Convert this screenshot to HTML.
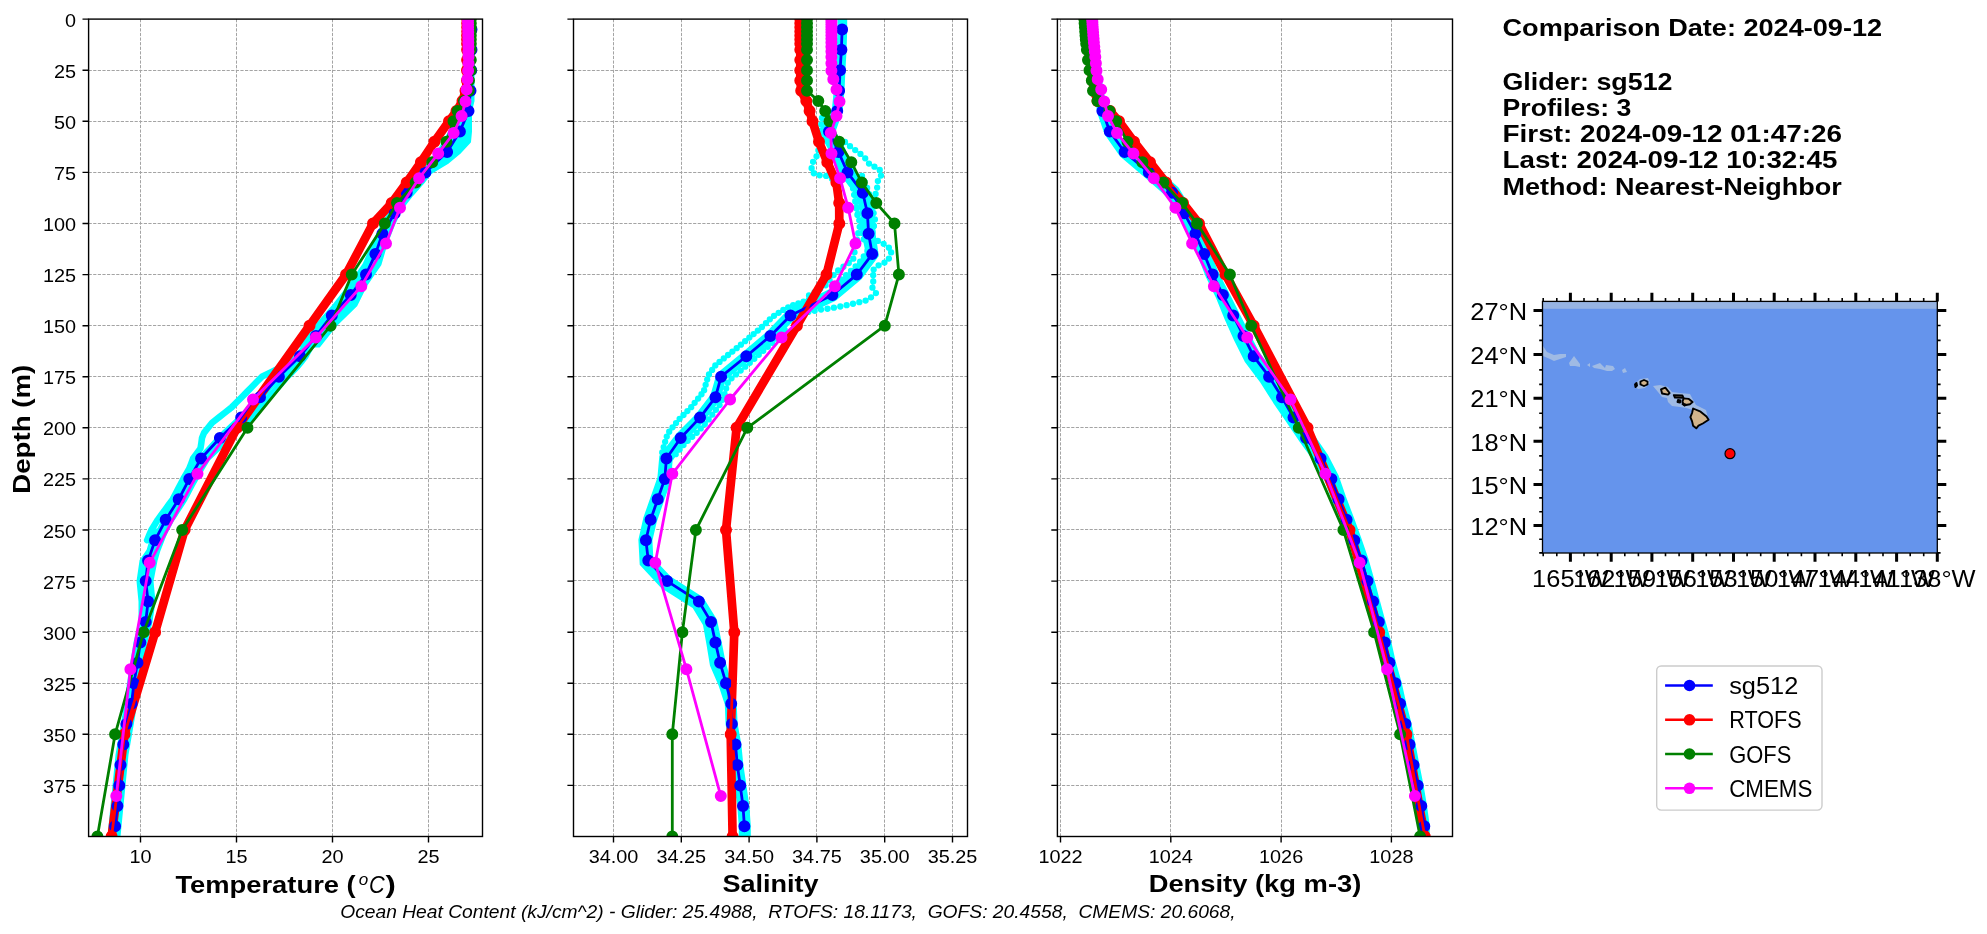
<!DOCTYPE html>
<html><head><meta charset="utf-8"><title>Profile comparison</title><style>html,body{margin:0;padding:0;background:#fff;overflow:hidden}svg{display:block;will-change:transform}text{font-family:"Liberation Sans",sans-serif}</style></head><body>
<svg width="1987" height="934" viewBox="0 0 1987 934" font-family="Liberation Sans, sans-serif">
<rect width="1987" height="934" fill="#ffffff"/>
<defs>
<clipPath id="c0"><rect x="88.6" y="19.1" width="393.9" height="817.4"/></clipPath>
<clipPath id="c1"><rect x="573.5" y="19.1" width="394" height="817.4"/></clipPath>
<clipPath id="c2"><rect x="1057.4" y="19.1" width="395.1" height="817.4"/></clipPath>
</defs>
<path d="M140.5 19.1V836.5M236.5 19.1V836.5M332.5 19.1V836.5M428.5 19.1V836.5M88.6 70.5H482.5M88.6 121.5H482.5M88.6 172.5H482.5M88.6 223.5H482.5M88.6 274.5H482.5M88.6 325.5H482.5M88.6 376.5H482.5M88.6 427.5H482.5M88.6 478.5H482.5M88.6 529.5H482.5M88.6 580.5H482.5M88.6 631.5H482.5M88.6 683.5H482.5M88.6 734.5H482.5M88.6 785.5H482.5" stroke="#a4a4a4" stroke-width="1" stroke-dasharray="3.2 1.4" fill="none"/>
<path d="M613.5 19.1V836.5M681.5 19.1V836.5M749.5 19.1V836.5M816.5 19.1V836.5M884.5 19.1V836.5M952.5 19.1V836.5M573.5 70.5H967.5M573.5 121.5H967.5M573.5 172.5H967.5M573.5 223.5H967.5M573.5 274.5H967.5M573.5 325.5H967.5M573.5 376.5H967.5M573.5 427.5H967.5M573.5 478.5H967.5M573.5 529.5H967.5M573.5 580.5H967.5M573.5 631.5H967.5M573.5 683.5H967.5M573.5 734.5H967.5M573.5 785.5H967.5" stroke="#a4a4a4" stroke-width="1" stroke-dasharray="3.2 1.4" fill="none"/>
<path d="M1060.5 19.1V836.5M1170.5 19.1V836.5M1281.5 19.1V836.5M1391.5 19.1V836.5M1057.4 70.5H1452.5M1057.4 121.5H1452.5M1057.4 172.5H1452.5M1057.4 223.5H1452.5M1057.4 274.5H1452.5M1057.4 325.5H1452.5M1057.4 376.5H1452.5M1057.4 427.5H1452.5M1057.4 478.5H1452.5M1057.4 529.5H1452.5M1057.4 580.5H1452.5M1057.4 631.5H1452.5M1057.4 683.5H1452.5M1057.4 734.5H1452.5M1057.4 785.5H1452.5" stroke="#a4a4a4" stroke-width="1" stroke-dasharray="3.2 1.4" fill="none"/>
<g clip-path="url(#c0)">
<polygon points="466,19.1 464,100.9 460,111.1 455,121.3 450,131.5 444,141.8 438,152 430,162.2 420,172.4 410,182.6 402,194.9 392,209.2 383,223.5 373,243.9 364,264.4 350,284.8 334,305.2 316,325.7 298,346.1 319,346.1 335,325.7 356,305.2 366,284.8 380,264.4 386,243.9 394,223.5 401,209.2 412,194.9 423,182.6 431,172.4 448,162.2 460,152 469.5,141.8 470.5,131.5 470.5,121.3 470.5,111.1 473,100.9 473,19.1" fill="#00ffff" stroke="#00ffff" stroke-width="3" stroke-linejoin="round"/><polygon points="154,530 148,550.4 141,560.6 138,581.1 140,601.5 140,621.9 135,642.4 130,673 124,713.9 117,754.8 113,795.6 109,836.5 119,836.5 123,795.6 127,754.8 134,713.9 141,673 146,642.4 151,621.9 154,601.5 152,581.1 156,560.6 159,550.4 167,530" fill="#00ffff" stroke="#00ffff" stroke-width="3" stroke-linejoin="round"/><polyline points="306,346.1 301.7,351.2 297.4,356.3 291.8,361.4 282.4,366.5 272.2,371.6 261.9,376.7 256.8,381.8 251.8,387 246.7,392.1 241.7,397.2 236.6,402.3 231.6,407.4 225.1,412.5 218.6,417.6 212.1,422.7 208.1,427.8 204,432.9 202,438 201.3,443.2 200.5,448.3 196.8,453.4 193.1,458.5 191.2,463.6 189.2,468.7 186.2,473.8 183.3,478.9 180.7,484 178,489.1 175.3,494.2 172.7,499.3 168.9,504.5 165.2,509.6 161.4,514.7 157.7,519.8 154.5,524.9 151.4,530 149.2,535.1 147.1,540.2" fill="none" stroke="#00ffff" stroke-width="6.5" stroke-linejoin="round" stroke-linecap="round"/><polyline points="311,346.1 308.2,351.2 305.5,356.3 301.5,361.4 297.4,366.5 292.3,371.6 287.2,376.7 282.7,381.8 278.1,387 273.6,392.1 269,397.2 264.5,402.3 259.9,407.4 255.4,412.5 250.9,417.6 245.7,422.7 240.6,427.8 234.6,432.9 228.6,438 223.2,443.2 217.8,448.3 212.5,453.4 207.1,458.5 204.1,463.6 201.1,468.7 198.1,473.8 195.1,478.9 192.3,484 189.6,489.1 186.9,494.2 184.2,499.3 180.9,504.5 177.6,509.6 174.3,514.7 170.9,519.8 168.2,524.9 165.5,530 162.8,535.1 160.1,540.2" fill="none" stroke="#00ffff" stroke-width="6.5" stroke-linejoin="round" stroke-linecap="round"/><polyline points="308,346.1 304,351.2 300,356.3 294.7,361.4 289.4,366.5 284.2,371.6 278.9,376.7 274.2,381.8 269.4,387 264.7,392.1 260,397.2 255.3,402.3 250.6,407.4 245.9,412.5 241.2,417.6 235.9,422.7 230.6,427.8 225.2,432.9 219.9,438 215.2,443.2 210.5,448.3 205.8,453.4 201.1,458.5 198.2,463.6 195.2,468.7 192.2,473.8 189.3,478.9 186.7,484 184,489.1 181.3,494.2 178.7,499.3 175.4,504.5 172.2,509.6 168.9,514.7 165.7,519.8 163,524.9 160.4,530 157.8,535.1 155.1,540.2" fill="none" stroke="#00ffff" stroke-width="7" stroke-linejoin="round" stroke-linecap="round"/>
<polyline points="467.2,19.1 467.2,23.2 467.2,27.3 467.2,31.4 467.1,35.5 467.1,39.6 467.1,43.7 467.1,49.8 467.1,60 467,70.2 467,80.5 465.5,90.7 462.5,100.9 456.5,111.1 449,121.3 434.4,141.8 420.9,162.2 406.7,182.6 391.7,203.1 373,223.5 346,274.6 309.5,325.7 237,427.8 184.6,530 155.1,632.2 124.5,734.3 111.6,836.5" fill="none" stroke="#ff0000" stroke-width="8.7" stroke-linejoin="round" stroke-linecap="butt"/>
<polyline points="471.5,29.4 471.5,49.8 471.2,70.2 470.5,90.7 468.5,111.1 459.9,131.5 447.1,152 425.4,172.4 406.7,192.8 394.7,213.3 382.4,233.7 375.4,254.1 366,274.6 350.7,295 331.8,315.4 316,335.9 300,356.3 278.9,376.7 260,397.2 241.2,417.6 219.9,438 201.1,458.5 189.3,478.9 178.7,499.3 165.7,519.8 155.1,540.2 148.1,560.6 145.7,581.1 148.1,601.5 145.7,621.9 140.3,642.4 137.5,662.8 133.9,683.2 131.6,703.7 126.4,724.1 123.3,744.5 120.5,765 119.3,785.4 117.4,805.9 115.1,826.3" fill="none" stroke="#0000ff" stroke-width="2.8" stroke-linejoin="round" stroke-linecap="butt"/>
<path d="M465.5 29.4a6.0 6.0 0 1 0 12 0a6.0 6.0 0 1 0 -12 0M465.5 49.8a6.0 6.0 0 1 0 12 0a6.0 6.0 0 1 0 -12 0M465.2 70.2a6.0 6.0 0 1 0 12 0a6.0 6.0 0 1 0 -12 0M464.5 90.7a6.0 6.0 0 1 0 12 0a6.0 6.0 0 1 0 -12 0M462.5 111.1a6.0 6.0 0 1 0 12 0a6.0 6.0 0 1 0 -12 0M453.9 131.5a6.0 6.0 0 1 0 12 0a6.0 6.0 0 1 0 -12 0M441.1 152a6.0 6.0 0 1 0 12 0a6.0 6.0 0 1 0 -12 0M419.4 172.4a6.0 6.0 0 1 0 12 0a6.0 6.0 0 1 0 -12 0M400.7 192.8a6.0 6.0 0 1 0 12 0a6.0 6.0 0 1 0 -12 0M388.7 213.3a6.0 6.0 0 1 0 12 0a6.0 6.0 0 1 0 -12 0M376.4 233.7a6.0 6.0 0 1 0 12 0a6.0 6.0 0 1 0 -12 0M369.4 254.1a6.0 6.0 0 1 0 12 0a6.0 6.0 0 1 0 -12 0M360 274.6a6.0 6.0 0 1 0 12 0a6.0 6.0 0 1 0 -12 0M344.7 295a6.0 6.0 0 1 0 12 0a6.0 6.0 0 1 0 -12 0M325.8 315.4a6.0 6.0 0 1 0 12 0a6.0 6.0 0 1 0 -12 0M310 335.9a6.0 6.0 0 1 0 12 0a6.0 6.0 0 1 0 -12 0M294 356.3a6.0 6.0 0 1 0 12 0a6.0 6.0 0 1 0 -12 0M272.9 376.7a6.0 6.0 0 1 0 12 0a6.0 6.0 0 1 0 -12 0M254 397.2a6.0 6.0 0 1 0 12 0a6.0 6.0 0 1 0 -12 0M235.2 417.6a6.0 6.0 0 1 0 12 0a6.0 6.0 0 1 0 -12 0M213.9 438a6.0 6.0 0 1 0 12 0a6.0 6.0 0 1 0 -12 0M195.1 458.5a6.0 6.0 0 1 0 12 0a6.0 6.0 0 1 0 -12 0M183.3 478.9a6.0 6.0 0 1 0 12 0a6.0 6.0 0 1 0 -12 0M172.7 499.3a6.0 6.0 0 1 0 12 0a6.0 6.0 0 1 0 -12 0M159.7 519.8a6.0 6.0 0 1 0 12 0a6.0 6.0 0 1 0 -12 0M149.1 540.2a6.0 6.0 0 1 0 12 0a6.0 6.0 0 1 0 -12 0M142.1 560.6a6.0 6.0 0 1 0 12 0a6.0 6.0 0 1 0 -12 0M139.7 581.1a6.0 6.0 0 1 0 12 0a6.0 6.0 0 1 0 -12 0M142.1 601.5a6.0 6.0 0 1 0 12 0a6.0 6.0 0 1 0 -12 0M139.7 621.9a6.0 6.0 0 1 0 12 0a6.0 6.0 0 1 0 -12 0M134.3 642.4a6.0 6.0 0 1 0 12 0a6.0 6.0 0 1 0 -12 0M131.5 662.8a6.0 6.0 0 1 0 12 0a6.0 6.0 0 1 0 -12 0M127.9 683.2a6.0 6.0 0 1 0 12 0a6.0 6.0 0 1 0 -12 0M125.6 703.7a6.0 6.0 0 1 0 12 0a6.0 6.0 0 1 0 -12 0M120.4 724.1a6.0 6.0 0 1 0 12 0a6.0 6.0 0 1 0 -12 0M117.3 744.5a6.0 6.0 0 1 0 12 0a6.0 6.0 0 1 0 -12 0M114.5 765a6.0 6.0 0 1 0 12 0a6.0 6.0 0 1 0 -12 0M113.3 785.4a6.0 6.0 0 1 0 12 0a6.0 6.0 0 1 0 -12 0M111.4 805.9a6.0 6.0 0 1 0 12 0a6.0 6.0 0 1 0 -12 0M109.1 826.3a6.0 6.0 0 1 0 12 0a6.0 6.0 0 1 0 -12 0" fill="#0000ff"/>
<polyline points="467.2,19.1 467.2,23.2 467.2,27.3 467.2,31.4 467.1,35.5 467.1,39.6 467.1,43.7 467.1,49.8 467.1,60 467,70.2 467,80.5 465.5,90.7 462.5,100.9 456.5,111.1 449,121.3 434.4,141.8 420.9,162.2 406.7,182.6 391.7,203.1 373,223.5 346,274.6 309.5,325.7 237,427.8 184.6,530 155.1,632.2 124.5,734.3 111.6,836.5" fill="none" stroke="#ff0000" stroke-width="2.8" stroke-linejoin="round" stroke-linecap="butt"/>
<path d="M461.2 19.1a6.0 6.0 0 1 0 12 0a6.0 6.0 0 1 0 -12 0M461.2 23.2a6.0 6.0 0 1 0 12 0a6.0 6.0 0 1 0 -12 0M461.2 27.3a6.0 6.0 0 1 0 12 0a6.0 6.0 0 1 0 -12 0M461.2 31.4a6.0 6.0 0 1 0 12 0a6.0 6.0 0 1 0 -12 0M461.1 35.5a6.0 6.0 0 1 0 12 0a6.0 6.0 0 1 0 -12 0M461.1 39.6a6.0 6.0 0 1 0 12 0a6.0 6.0 0 1 0 -12 0M461.1 43.7a6.0 6.0 0 1 0 12 0a6.0 6.0 0 1 0 -12 0M461.1 49.8a6.0 6.0 0 1 0 12 0a6.0 6.0 0 1 0 -12 0M461.1 60a6.0 6.0 0 1 0 12 0a6.0 6.0 0 1 0 -12 0M461 70.2a6.0 6.0 0 1 0 12 0a6.0 6.0 0 1 0 -12 0M461 80.5a6.0 6.0 0 1 0 12 0a6.0 6.0 0 1 0 -12 0M459.5 90.7a6.0 6.0 0 1 0 12 0a6.0 6.0 0 1 0 -12 0M456.5 100.9a6.0 6.0 0 1 0 12 0a6.0 6.0 0 1 0 -12 0M450.5 111.1a6.0 6.0 0 1 0 12 0a6.0 6.0 0 1 0 -12 0M443 121.3a6.0 6.0 0 1 0 12 0a6.0 6.0 0 1 0 -12 0M428.4 141.8a6.0 6.0 0 1 0 12 0a6.0 6.0 0 1 0 -12 0M414.9 162.2a6.0 6.0 0 1 0 12 0a6.0 6.0 0 1 0 -12 0M400.7 182.6a6.0 6.0 0 1 0 12 0a6.0 6.0 0 1 0 -12 0M385.7 203.1a6.0 6.0 0 1 0 12 0a6.0 6.0 0 1 0 -12 0M367 223.5a6.0 6.0 0 1 0 12 0a6.0 6.0 0 1 0 -12 0M340 274.6a6.0 6.0 0 1 0 12 0a6.0 6.0 0 1 0 -12 0M303.5 325.7a6.0 6.0 0 1 0 12 0a6.0 6.0 0 1 0 -12 0M231 427.8a6.0 6.0 0 1 0 12 0a6.0 6.0 0 1 0 -12 0M178.6 530a6.0 6.0 0 1 0 12 0a6.0 6.0 0 1 0 -12 0M149.1 632.2a6.0 6.0 0 1 0 12 0a6.0 6.0 0 1 0 -12 0M118.5 734.3a6.0 6.0 0 1 0 12 0a6.0 6.0 0 1 0 -12 0M105.6 836.5a6.0 6.0 0 1 0 12 0a6.0 6.0 0 1 0 -12 0" fill="#ff0000"/>
<polyline points="470.8,19.1 470.8,23.2 470.8,27.3 470.8,31.4 470.8,35.5 470.8,39.6 470.8,43.7 470.8,49.8 470.8,60 470.8,70.2 469,80.5 468.8,90.7 464,100.9 457.6,111.1 453.5,121.3 446.4,141.8 432.2,162.2 415.7,182.6 397,203.1 384.8,223.5 351.8,274.6 330.6,325.7 247.5,427.8 182.2,530 143.6,632.2 115.1,734.3 97.4,836.5" fill="none" stroke="#008000" stroke-width="2.8" stroke-linejoin="round" stroke-linecap="butt"/>
<path d="M464.8 19.1a6.0 6.0 0 1 0 12 0a6.0 6.0 0 1 0 -12 0M464.8 23.2a6.0 6.0 0 1 0 12 0a6.0 6.0 0 1 0 -12 0M464.8 27.3a6.0 6.0 0 1 0 12 0a6.0 6.0 0 1 0 -12 0M464.8 31.4a6.0 6.0 0 1 0 12 0a6.0 6.0 0 1 0 -12 0M464.8 35.5a6.0 6.0 0 1 0 12 0a6.0 6.0 0 1 0 -12 0M464.8 39.6a6.0 6.0 0 1 0 12 0a6.0 6.0 0 1 0 -12 0M464.8 43.7a6.0 6.0 0 1 0 12 0a6.0 6.0 0 1 0 -12 0M464.8 49.8a6.0 6.0 0 1 0 12 0a6.0 6.0 0 1 0 -12 0M464.8 60a6.0 6.0 0 1 0 12 0a6.0 6.0 0 1 0 -12 0M464.8 70.2a6.0 6.0 0 1 0 12 0a6.0 6.0 0 1 0 -12 0M463 80.5a6.0 6.0 0 1 0 12 0a6.0 6.0 0 1 0 -12 0M462.8 90.7a6.0 6.0 0 1 0 12 0a6.0 6.0 0 1 0 -12 0M458 100.9a6.0 6.0 0 1 0 12 0a6.0 6.0 0 1 0 -12 0M451.6 111.1a6.0 6.0 0 1 0 12 0a6.0 6.0 0 1 0 -12 0M447.5 121.3a6.0 6.0 0 1 0 12 0a6.0 6.0 0 1 0 -12 0M440.4 141.8a6.0 6.0 0 1 0 12 0a6.0 6.0 0 1 0 -12 0M426.2 162.2a6.0 6.0 0 1 0 12 0a6.0 6.0 0 1 0 -12 0M409.7 182.6a6.0 6.0 0 1 0 12 0a6.0 6.0 0 1 0 -12 0M391 203.1a6.0 6.0 0 1 0 12 0a6.0 6.0 0 1 0 -12 0M378.8 223.5a6.0 6.0 0 1 0 12 0a6.0 6.0 0 1 0 -12 0M345.8 274.6a6.0 6.0 0 1 0 12 0a6.0 6.0 0 1 0 -12 0M324.6 325.7a6.0 6.0 0 1 0 12 0a6.0 6.0 0 1 0 -12 0M241.5 427.8a6.0 6.0 0 1 0 12 0a6.0 6.0 0 1 0 -12 0M176.2 530a6.0 6.0 0 1 0 12 0a6.0 6.0 0 1 0 -12 0M137.6 632.2a6.0 6.0 0 1 0 12 0a6.0 6.0 0 1 0 -12 0M109.1 734.3a6.0 6.0 0 1 0 12 0a6.0 6.0 0 1 0 -12 0M91.4 836.5a6.0 6.0 0 1 0 12 0a6.0 6.0 0 1 0 -12 0" fill="#008000"/>
<polyline points="468,20.2 468,22.3 468.1,24.6 468.1,27 468.1,29.5 468.2,32.3 468.2,35.4 468.3,38.7 468.3,42.4 468.4,46.7 468.4,51.5 468.5,57 468.5,63.3 468.1,70.7 467.4,79.3 466.6,89.5 465.5,101.6 461.6,115.9 453.6,133.1 438.2,153.6 419.1,178.2 400,207.8 386,243.4 361.3,286.2 315.8,337.6 253,399.5 197.5,473.8 149.7,562.8 130.4,669.2 116.3,796.1" fill="none" stroke="#ff00ff" stroke-width="2.8" stroke-linejoin="round" stroke-linecap="butt"/>
<path d="M462 20.2a6.0 6.0 0 1 0 12 0a6.0 6.0 0 1 0 -12 0M462 22.3a6.0 6.0 0 1 0 12 0a6.0 6.0 0 1 0 -12 0M462.1 24.6a6.0 6.0 0 1 0 12 0a6.0 6.0 0 1 0 -12 0M462.1 27a6.0 6.0 0 1 0 12 0a6.0 6.0 0 1 0 -12 0M462.1 29.5a6.0 6.0 0 1 0 12 0a6.0 6.0 0 1 0 -12 0M462.2 32.3a6.0 6.0 0 1 0 12 0a6.0 6.0 0 1 0 -12 0M462.2 35.4a6.0 6.0 0 1 0 12 0a6.0 6.0 0 1 0 -12 0M462.3 38.7a6.0 6.0 0 1 0 12 0a6.0 6.0 0 1 0 -12 0M462.3 42.4a6.0 6.0 0 1 0 12 0a6.0 6.0 0 1 0 -12 0M462.4 46.7a6.0 6.0 0 1 0 12 0a6.0 6.0 0 1 0 -12 0M462.4 51.5a6.0 6.0 0 1 0 12 0a6.0 6.0 0 1 0 -12 0M462.5 57a6.0 6.0 0 1 0 12 0a6.0 6.0 0 1 0 -12 0M462.5 63.3a6.0 6.0 0 1 0 12 0a6.0 6.0 0 1 0 -12 0M462.1 70.7a6.0 6.0 0 1 0 12 0a6.0 6.0 0 1 0 -12 0M461.4 79.3a6.0 6.0 0 1 0 12 0a6.0 6.0 0 1 0 -12 0M460.6 89.5a6.0 6.0 0 1 0 12 0a6.0 6.0 0 1 0 -12 0M459.5 101.6a6.0 6.0 0 1 0 12 0a6.0 6.0 0 1 0 -12 0M455.6 115.9a6.0 6.0 0 1 0 12 0a6.0 6.0 0 1 0 -12 0M447.6 133.1a6.0 6.0 0 1 0 12 0a6.0 6.0 0 1 0 -12 0M432.2 153.6a6.0 6.0 0 1 0 12 0a6.0 6.0 0 1 0 -12 0M413.1 178.2a6.0 6.0 0 1 0 12 0a6.0 6.0 0 1 0 -12 0M394 207.8a6.0 6.0 0 1 0 12 0a6.0 6.0 0 1 0 -12 0M380 243.4a6.0 6.0 0 1 0 12 0a6.0 6.0 0 1 0 -12 0M355.3 286.2a6.0 6.0 0 1 0 12 0a6.0 6.0 0 1 0 -12 0M309.8 337.6a6.0 6.0 0 1 0 12 0a6.0 6.0 0 1 0 -12 0M247 399.5a6.0 6.0 0 1 0 12 0a6.0 6.0 0 1 0 -12 0M191.5 473.8a6.0 6.0 0 1 0 12 0a6.0 6.0 0 1 0 -12 0M143.7 562.8a6.0 6.0 0 1 0 12 0a6.0 6.0 0 1 0 -12 0M124.4 669.2a6.0 6.0 0 1 0 12 0a6.0 6.0 0 1 0 -12 0M110.3 796.1a6.0 6.0 0 1 0 12 0a6.0 6.0 0 1 0 -12 0" fill="#ff00ff"/>
</g>
<rect x="88.6" y="19.1" width="393.9" height="817.4" fill="none" stroke="#000" stroke-width="1.4" stroke-linejoin="miter"/>
<path d="M140.5 836.5V842.6M236.5 836.5V842.6M332.5 836.5V842.6M428.5 836.5V842.6M88.6 19.1H82.5M88.6 70.2H82.5M88.6 121.3H82.5M88.6 172.4H82.5M88.6 223.5H82.5M88.6 274.6H82.5M88.6 325.7H82.5M88.6 376.7H82.5M88.6 427.8H82.5M88.6 478.9H82.5M88.6 530H82.5M88.6 581.1H82.5M88.6 632.2H82.5M88.6 683.2H82.5M88.6 734.3H82.5M88.6 785.4H82.5" stroke="#000" stroke-width="1.4" fill="none"/>
<text x="140.5" y="862.8" font-size="18.4" text-anchor="middle" font-weight="normal" font-style="normal" textLength="22.1" lengthAdjust="spacingAndGlyphs">10</text>
<text x="236.5" y="862.8" font-size="18.4" text-anchor="middle" font-weight="normal" font-style="normal" textLength="22.1" lengthAdjust="spacingAndGlyphs">15</text>
<text x="332.5" y="862.8" font-size="18.4" text-anchor="middle" font-weight="normal" font-style="normal" textLength="22.1" lengthAdjust="spacingAndGlyphs">20</text>
<text x="428.5" y="862.8" font-size="18.4" text-anchor="middle" font-weight="normal" font-style="normal" textLength="22.1" lengthAdjust="spacingAndGlyphs">25</text>
<g clip-path="url(#c1)">
<polygon points="839,14.1 839,29.3 838.1,49.6 836.6,70 835.3,90.4 833.3,110.1 820,131.8 833,154.4 842.5,175.4 857.6,195.3 861.9,214.1 863.2,234.3 867.1,252.7 853.1,270.9 829.7,290.7 788,311.7 767.7,332.9 743.7,353.2 717.9,374.3 711.9,395.3 697,415 677.1,435.1 660.8,456.3 658.9,477.7 652,497.4 644.8,518.1 639.9,539.9 641.2,564.3 662.3,587.1 693.8,607 704.4,624.6 707.9,644 711.4,665.1 719.9,684.9 726.3,704.4 727.1,724.6 730.9,745.2 732.8,765.5 735.9,786 738.8,806.3 740.3,826.6 740.3,841.5 749.3,841.5 749.3,825.9 747.8,805.4 744.8,784.8 741.8,764.5 739.8,744 736.1,723.7 735.2,703.1 729.9,682.2 724,661.8 720,641.4 715.5,620.1 702,598.2 669.8,577.7 651.9,558.8 650.9,540.5 655.4,521.2 662.4,501 669.7,480 671.1,460.3 684,440.8 703,420.2 719.1,399 724.3,379.1 748.9,359.4 773.1,338.8 793,319.2 835.1,299.3 860.5,278.2 877.3,255.6 874,233.1 872.9,212.5 868,190.3 852.5,169.4 844,149.5 834,131.4 841.1,112.1 843,90.9 843.9,70.4 845.1,50 845.7,29.5 845.7,14.1" fill="#00ffff" stroke="#00ffff" stroke-width="3" stroke-linejoin="round"/><polyline points="822,118 820,135 818,154 813,162 811,171 816,175 827,176 838,182" fill="none" stroke="#00ffff" stroke-width="6.3" stroke-linejoin="round" stroke-linecap="round" stroke-dasharray="0 6.5"/><polyline points="845,142 851,147 860,153.5 865,158 870,165 879,168.5 882,174 878,180 877,189 875,196 873,212 874,232" fill="none" stroke="#00ffff" stroke-width="6.3" stroke-linejoin="round" stroke-linecap="round" stroke-dasharray="0 6.5"/><polyline points="872,238 884,244 892,250 888,261 879,265 872,271 874,278 872,287 876,293 868,300 860,302 852,304 843,306 830,308.4 819.5,309.8 808,312" fill="none" stroke="#00ffff" stroke-width="6.3" stroke-linejoin="round" stroke-linecap="round" stroke-dasharray="0 6.5"/><polyline points="855.7,195.6 857,214 861,221 858.5,232 853,260 836,272 825,286 808,296" fill="none" stroke="#00ffff" stroke-width="6.3" stroke-linejoin="round" stroke-linecap="round" stroke-dasharray="0 6.5"/><polyline points="862,176 868,190 872,205 875,220 872,235 868,250 860,262 850,272 838,282" fill="none" stroke="#00ffff" stroke-width="6.3" stroke-linejoin="round" stroke-linecap="round" stroke-dasharray="0 6.5"/><polyline points="852,182 855,200 858,215 862,232 865,245" fill="none" stroke="#00ffff" stroke-width="6.3" stroke-linejoin="round" stroke-linecap="round" stroke-dasharray="0 6.5"/><polyline points="808.8,299.8 799.9,302.8 791,305.8 781.6,310.8 776.8,314 771.9,317.2 767.8,321.3 763.8,325.3 760.1,328.7 755.3,332.7 750.4,336.7 745.6,340.8 740.7,344.8 736,348.7 730.9,352.8 725.8,356.8 720.8,360.9 715.7,364.9 708.3,375.4 707.2,379.5 706,383.6 704.8,387.7 703.7,391.7 703.7,391.4 700.5,395.5 697.4,399.5 694.1,403.5 690.9,407.5 688.2,410.3 684.2,414.3 680.2,418.2 676.5,422.5 672.9,426.8 668.5,432.6 666.5,437.2 665,442.3 663.6,447.4 662.2,452.5" fill="none" stroke="#00ffff" stroke-width="6.3" stroke-linejoin="round" stroke-linecap="round" stroke-dasharray="0 5.5"/><polyline points="784.7,329.9 780.8,334.1 776.9,338.3 772.2,342.9 767.5,347.1 762.7,351.3 758,355.5 753.3,359.7 748.4,364 743.4,368.2 738.5,372.4 733.5,376.6 728.6,380.8 728.3,380.9 727.1,385 726,389.1 724.9,393.2 723.8,397.2 720.3,404.1 717.2,408.1 714.1,412.2 711,416.3 707.9,420.4 703.9,425.1 700,429.2 696.2,433.3 691.9,437.1 687.7,440.8 684.6,443.8 681.3,447.6 678.1,451.4 674.8,455.2" fill="none" stroke="#00ffff" stroke-width="6.3" stroke-linejoin="round" stroke-linecap="round" stroke-dasharray="0 6"/>
<polyline points="800.3,19.1 800.3,23.2 800.3,27.3 800.3,31.4 800.3,35.5 800.3,39.6 800.3,43.7 800.3,49.8 800.3,60 800.3,70.2 800.3,80.5 801.2,90.7 806.3,100.9 809.6,111.1 812.5,121.3 819,141.8 827.3,162.2 836.4,182.6 839.2,203.1 839.3,223.5 826.5,274.6 796.9,325.7 736.6,427.8 726,530 734.3,632.2 730.7,734.3 732.6,836.5" fill="none" stroke="#ff0000" stroke-width="8.7" stroke-linejoin="round" stroke-linecap="butt"/>
<polyline points="842.1,29.4 841.4,49.8 840.1,70.2 839.1,90.7 837.2,111.1 829,131.5 838.5,152 847.5,172.4 862.8,192.8 867.4,213.3 868.6,233.7 872.2,254.1 856.8,274.6 832.4,295 790.5,315.4 770.4,335.9 746.3,356.3 721.1,376.7 715.5,397.2 700,417.6 680.7,438 666.4,458.5 664.8,478.9 657.7,499.3 650.6,519.8 645.9,540.2 648.3,560.6 667.1,581.1 698.9,601.5 711,621.9 715.4,642.4 720.1,662.8 726,683.2 731.2,703.7 731.9,724.1 735.5,744.5 737.3,765 740.2,785.4 743,805.9 744.4,826.3" fill="none" stroke="#0000ff" stroke-width="2.8" stroke-linejoin="round" stroke-linecap="butt"/>
<path d="M836.1 29.4a6.0 6.0 0 1 0 12 0a6.0 6.0 0 1 0 -12 0M835.4 49.8a6.0 6.0 0 1 0 12 0a6.0 6.0 0 1 0 -12 0M834.1 70.2a6.0 6.0 0 1 0 12 0a6.0 6.0 0 1 0 -12 0M833.1 90.7a6.0 6.0 0 1 0 12 0a6.0 6.0 0 1 0 -12 0M831.2 111.1a6.0 6.0 0 1 0 12 0a6.0 6.0 0 1 0 -12 0M823 131.5a6.0 6.0 0 1 0 12 0a6.0 6.0 0 1 0 -12 0M832.5 152a6.0 6.0 0 1 0 12 0a6.0 6.0 0 1 0 -12 0M841.5 172.4a6.0 6.0 0 1 0 12 0a6.0 6.0 0 1 0 -12 0M856.8 192.8a6.0 6.0 0 1 0 12 0a6.0 6.0 0 1 0 -12 0M861.4 213.3a6.0 6.0 0 1 0 12 0a6.0 6.0 0 1 0 -12 0M862.6 233.7a6.0 6.0 0 1 0 12 0a6.0 6.0 0 1 0 -12 0M866.2 254.1a6.0 6.0 0 1 0 12 0a6.0 6.0 0 1 0 -12 0M850.8 274.6a6.0 6.0 0 1 0 12 0a6.0 6.0 0 1 0 -12 0M826.4 295a6.0 6.0 0 1 0 12 0a6.0 6.0 0 1 0 -12 0M784.5 315.4a6.0 6.0 0 1 0 12 0a6.0 6.0 0 1 0 -12 0M764.4 335.9a6.0 6.0 0 1 0 12 0a6.0 6.0 0 1 0 -12 0M740.3 356.3a6.0 6.0 0 1 0 12 0a6.0 6.0 0 1 0 -12 0M715.1 376.7a6.0 6.0 0 1 0 12 0a6.0 6.0 0 1 0 -12 0M709.5 397.2a6.0 6.0 0 1 0 12 0a6.0 6.0 0 1 0 -12 0M694 417.6a6.0 6.0 0 1 0 12 0a6.0 6.0 0 1 0 -12 0M674.7 438a6.0 6.0 0 1 0 12 0a6.0 6.0 0 1 0 -12 0M660.4 458.5a6.0 6.0 0 1 0 12 0a6.0 6.0 0 1 0 -12 0M658.8 478.9a6.0 6.0 0 1 0 12 0a6.0 6.0 0 1 0 -12 0M651.7 499.3a6.0 6.0 0 1 0 12 0a6.0 6.0 0 1 0 -12 0M644.6 519.8a6.0 6.0 0 1 0 12 0a6.0 6.0 0 1 0 -12 0M639.9 540.2a6.0 6.0 0 1 0 12 0a6.0 6.0 0 1 0 -12 0M642.3 560.6a6.0 6.0 0 1 0 12 0a6.0 6.0 0 1 0 -12 0M661.1 581.1a6.0 6.0 0 1 0 12 0a6.0 6.0 0 1 0 -12 0M692.9 601.5a6.0 6.0 0 1 0 12 0a6.0 6.0 0 1 0 -12 0M705 621.9a6.0 6.0 0 1 0 12 0a6.0 6.0 0 1 0 -12 0M709.4 642.4a6.0 6.0 0 1 0 12 0a6.0 6.0 0 1 0 -12 0M714.1 662.8a6.0 6.0 0 1 0 12 0a6.0 6.0 0 1 0 -12 0M720 683.2a6.0 6.0 0 1 0 12 0a6.0 6.0 0 1 0 -12 0M725.2 703.7a6.0 6.0 0 1 0 12 0a6.0 6.0 0 1 0 -12 0M725.9 724.1a6.0 6.0 0 1 0 12 0a6.0 6.0 0 1 0 -12 0M729.5 744.5a6.0 6.0 0 1 0 12 0a6.0 6.0 0 1 0 -12 0M731.3 765a6.0 6.0 0 1 0 12 0a6.0 6.0 0 1 0 -12 0M734.2 785.4a6.0 6.0 0 1 0 12 0a6.0 6.0 0 1 0 -12 0M737 805.9a6.0 6.0 0 1 0 12 0a6.0 6.0 0 1 0 -12 0M738.4 826.3a6.0 6.0 0 1 0 12 0a6.0 6.0 0 1 0 -12 0" fill="#0000ff"/>
<polyline points="800.3,19.1 800.3,23.2 800.3,27.3 800.3,31.4 800.3,35.5 800.3,39.6 800.3,43.7 800.3,49.8 800.3,60 800.3,70.2 800.3,80.5 801.2,90.7 806.3,100.9 809.6,111.1 812.5,121.3 819,141.8 827.3,162.2 836.4,182.6 839.2,203.1 839.3,223.5 826.5,274.6 796.9,325.7 736.6,427.8 726,530 734.3,632.2 730.7,734.3 732.6,836.5" fill="none" stroke="#ff0000" stroke-width="2.8" stroke-linejoin="round" stroke-linecap="butt"/>
<path d="M794.3 19.1a6.0 6.0 0 1 0 12 0a6.0 6.0 0 1 0 -12 0M794.3 23.2a6.0 6.0 0 1 0 12 0a6.0 6.0 0 1 0 -12 0M794.3 27.3a6.0 6.0 0 1 0 12 0a6.0 6.0 0 1 0 -12 0M794.3 31.4a6.0 6.0 0 1 0 12 0a6.0 6.0 0 1 0 -12 0M794.3 35.5a6.0 6.0 0 1 0 12 0a6.0 6.0 0 1 0 -12 0M794.3 39.6a6.0 6.0 0 1 0 12 0a6.0 6.0 0 1 0 -12 0M794.3 43.7a6.0 6.0 0 1 0 12 0a6.0 6.0 0 1 0 -12 0M794.3 49.8a6.0 6.0 0 1 0 12 0a6.0 6.0 0 1 0 -12 0M794.3 60a6.0 6.0 0 1 0 12 0a6.0 6.0 0 1 0 -12 0M794.3 70.2a6.0 6.0 0 1 0 12 0a6.0 6.0 0 1 0 -12 0M794.3 80.5a6.0 6.0 0 1 0 12 0a6.0 6.0 0 1 0 -12 0M795.2 90.7a6.0 6.0 0 1 0 12 0a6.0 6.0 0 1 0 -12 0M800.3 100.9a6.0 6.0 0 1 0 12 0a6.0 6.0 0 1 0 -12 0M803.6 111.1a6.0 6.0 0 1 0 12 0a6.0 6.0 0 1 0 -12 0M806.5 121.3a6.0 6.0 0 1 0 12 0a6.0 6.0 0 1 0 -12 0M813 141.8a6.0 6.0 0 1 0 12 0a6.0 6.0 0 1 0 -12 0M821.3 162.2a6.0 6.0 0 1 0 12 0a6.0 6.0 0 1 0 -12 0M830.4 182.6a6.0 6.0 0 1 0 12 0a6.0 6.0 0 1 0 -12 0M833.2 203.1a6.0 6.0 0 1 0 12 0a6.0 6.0 0 1 0 -12 0M833.3 223.5a6.0 6.0 0 1 0 12 0a6.0 6.0 0 1 0 -12 0M820.5 274.6a6.0 6.0 0 1 0 12 0a6.0 6.0 0 1 0 -12 0M790.9 325.7a6.0 6.0 0 1 0 12 0a6.0 6.0 0 1 0 -12 0M730.6 427.8a6.0 6.0 0 1 0 12 0a6.0 6.0 0 1 0 -12 0M720 530a6.0 6.0 0 1 0 12 0a6.0 6.0 0 1 0 -12 0M728.3 632.2a6.0 6.0 0 1 0 12 0a6.0 6.0 0 1 0 -12 0M724.7 734.3a6.0 6.0 0 1 0 12 0a6.0 6.0 0 1 0 -12 0M726.6 836.5a6.0 6.0 0 1 0 12 0a6.0 6.0 0 1 0 -12 0" fill="#ff0000"/>
<polyline points="807,19.1 807,23.2 807,27.3 807,31.4 807,35.5 807,39.6 807,43.7 807,49.8 807,60 807,70.2 807,80.5 807,90.7 818.3,100.9 825.2,111.1 829.5,121.3 839.2,141.8 851.3,162.2 861.8,182.6 876.3,203.1 894.5,223.5 898.9,274.6 884.8,325.7 747.3,427.8 695.9,530 682.4,632.2 672.3,734.3 672.3,836.5" fill="none" stroke="#008000" stroke-width="2.8" stroke-linejoin="round" stroke-linecap="butt"/>
<path d="M801 19.1a6.0 6.0 0 1 0 12 0a6.0 6.0 0 1 0 -12 0M801 23.2a6.0 6.0 0 1 0 12 0a6.0 6.0 0 1 0 -12 0M801 27.3a6.0 6.0 0 1 0 12 0a6.0 6.0 0 1 0 -12 0M801 31.4a6.0 6.0 0 1 0 12 0a6.0 6.0 0 1 0 -12 0M801 35.5a6.0 6.0 0 1 0 12 0a6.0 6.0 0 1 0 -12 0M801 39.6a6.0 6.0 0 1 0 12 0a6.0 6.0 0 1 0 -12 0M801 43.7a6.0 6.0 0 1 0 12 0a6.0 6.0 0 1 0 -12 0M801 49.8a6.0 6.0 0 1 0 12 0a6.0 6.0 0 1 0 -12 0M801 60a6.0 6.0 0 1 0 12 0a6.0 6.0 0 1 0 -12 0M801 70.2a6.0 6.0 0 1 0 12 0a6.0 6.0 0 1 0 -12 0M801 80.5a6.0 6.0 0 1 0 12 0a6.0 6.0 0 1 0 -12 0M801 90.7a6.0 6.0 0 1 0 12 0a6.0 6.0 0 1 0 -12 0M812.3 100.9a6.0 6.0 0 1 0 12 0a6.0 6.0 0 1 0 -12 0M819.2 111.1a6.0 6.0 0 1 0 12 0a6.0 6.0 0 1 0 -12 0M823.5 121.3a6.0 6.0 0 1 0 12 0a6.0 6.0 0 1 0 -12 0M833.2 141.8a6.0 6.0 0 1 0 12 0a6.0 6.0 0 1 0 -12 0M845.3 162.2a6.0 6.0 0 1 0 12 0a6.0 6.0 0 1 0 -12 0M855.8 182.6a6.0 6.0 0 1 0 12 0a6.0 6.0 0 1 0 -12 0M870.3 203.1a6.0 6.0 0 1 0 12 0a6.0 6.0 0 1 0 -12 0M888.5 223.5a6.0 6.0 0 1 0 12 0a6.0 6.0 0 1 0 -12 0M892.9 274.6a6.0 6.0 0 1 0 12 0a6.0 6.0 0 1 0 -12 0M878.8 325.7a6.0 6.0 0 1 0 12 0a6.0 6.0 0 1 0 -12 0M741.3 427.8a6.0 6.0 0 1 0 12 0a6.0 6.0 0 1 0 -12 0M689.9 530a6.0 6.0 0 1 0 12 0a6.0 6.0 0 1 0 -12 0M676.4 632.2a6.0 6.0 0 1 0 12 0a6.0 6.0 0 1 0 -12 0M666.3 734.3a6.0 6.0 0 1 0 12 0a6.0 6.0 0 1 0 -12 0M666.3 836.5a6.0 6.0 0 1 0 12 0a6.0 6.0 0 1 0 -12 0" fill="#008000"/>
<polyline points="831.4,20.2 831.4,22.3 831.4,24.6 831.4,27 831.4,29.5 831.4,32.3 831.4,35.4 831.4,38.7 831.4,42.4 831.4,46.7 831.4,51.5 831.4,57 831.4,63.3 831.4,70.7 833.3,79.3 836.5,89.5 839.5,101.6 836.5,115.9 830.8,133.1 831.5,153.6 840.1,178.2 848.2,207.8 855.5,243.4 834.9,286.2 781.5,337.6 730.1,399.5 672.3,473.8 655.3,562.8 686.4,669.2 720.8,796.1" fill="none" stroke="#ff00ff" stroke-width="2.8" stroke-linejoin="round" stroke-linecap="butt"/>
<path d="M825.4 20.2a6.0 6.0 0 1 0 12 0a6.0 6.0 0 1 0 -12 0M825.4 22.3a6.0 6.0 0 1 0 12 0a6.0 6.0 0 1 0 -12 0M825.4 24.6a6.0 6.0 0 1 0 12 0a6.0 6.0 0 1 0 -12 0M825.4 27a6.0 6.0 0 1 0 12 0a6.0 6.0 0 1 0 -12 0M825.4 29.5a6.0 6.0 0 1 0 12 0a6.0 6.0 0 1 0 -12 0M825.4 32.3a6.0 6.0 0 1 0 12 0a6.0 6.0 0 1 0 -12 0M825.4 35.4a6.0 6.0 0 1 0 12 0a6.0 6.0 0 1 0 -12 0M825.4 38.7a6.0 6.0 0 1 0 12 0a6.0 6.0 0 1 0 -12 0M825.4 42.4a6.0 6.0 0 1 0 12 0a6.0 6.0 0 1 0 -12 0M825.4 46.7a6.0 6.0 0 1 0 12 0a6.0 6.0 0 1 0 -12 0M825.4 51.5a6.0 6.0 0 1 0 12 0a6.0 6.0 0 1 0 -12 0M825.4 57a6.0 6.0 0 1 0 12 0a6.0 6.0 0 1 0 -12 0M825.4 63.3a6.0 6.0 0 1 0 12 0a6.0 6.0 0 1 0 -12 0M825.4 70.7a6.0 6.0 0 1 0 12 0a6.0 6.0 0 1 0 -12 0M827.3 79.3a6.0 6.0 0 1 0 12 0a6.0 6.0 0 1 0 -12 0M830.5 89.5a6.0 6.0 0 1 0 12 0a6.0 6.0 0 1 0 -12 0M833.5 101.6a6.0 6.0 0 1 0 12 0a6.0 6.0 0 1 0 -12 0M830.5 115.9a6.0 6.0 0 1 0 12 0a6.0 6.0 0 1 0 -12 0M824.8 133.1a6.0 6.0 0 1 0 12 0a6.0 6.0 0 1 0 -12 0M825.5 153.6a6.0 6.0 0 1 0 12 0a6.0 6.0 0 1 0 -12 0M834.1 178.2a6.0 6.0 0 1 0 12 0a6.0 6.0 0 1 0 -12 0M842.2 207.8a6.0 6.0 0 1 0 12 0a6.0 6.0 0 1 0 -12 0M849.5 243.4a6.0 6.0 0 1 0 12 0a6.0 6.0 0 1 0 -12 0M828.9 286.2a6.0 6.0 0 1 0 12 0a6.0 6.0 0 1 0 -12 0M775.5 337.6a6.0 6.0 0 1 0 12 0a6.0 6.0 0 1 0 -12 0M724.1 399.5a6.0 6.0 0 1 0 12 0a6.0 6.0 0 1 0 -12 0M666.3 473.8a6.0 6.0 0 1 0 12 0a6.0 6.0 0 1 0 -12 0M649.3 562.8a6.0 6.0 0 1 0 12 0a6.0 6.0 0 1 0 -12 0M680.4 669.2a6.0 6.0 0 1 0 12 0a6.0 6.0 0 1 0 -12 0M714.8 796.1a6.0 6.0 0 1 0 12 0a6.0 6.0 0 1 0 -12 0" fill="#ff00ff"/>
</g>
<rect x="573.5" y="19.1" width="394" height="817.4" fill="none" stroke="#000" stroke-width="1.4" stroke-linejoin="miter"/>
<path d="M613.5 836.5V842.6M681.3 836.5V842.6M749.1 836.5V842.6M816.9 836.5V842.6M884.7 836.5V842.6M952.5 836.5V842.6M573.5 19.1H567.4M573.5 70.2H567.4M573.5 121.3H567.4M573.5 172.4H567.4M573.5 223.5H567.4M573.5 274.6H567.4M573.5 325.7H567.4M573.5 376.7H567.4M573.5 427.8H567.4M573.5 478.9H567.4M573.5 530H567.4M573.5 581.1H567.4M573.5 632.2H567.4M573.5 683.2H567.4M573.5 734.3H567.4M573.5 785.4H567.4" stroke="#000" stroke-width="1.4" fill="none"/>
<text x="613.5" y="862.8" font-size="18.4" text-anchor="middle" font-weight="normal" font-style="normal" textLength="49.7" lengthAdjust="spacingAndGlyphs">34.00</text>
<text x="681.3" y="862.8" font-size="18.4" text-anchor="middle" font-weight="normal" font-style="normal" textLength="49.7" lengthAdjust="spacingAndGlyphs">34.25</text>
<text x="749.1" y="862.8" font-size="18.4" text-anchor="middle" font-weight="normal" font-style="normal" textLength="49.7" lengthAdjust="spacingAndGlyphs">34.50</text>
<text x="816.9" y="862.8" font-size="18.4" text-anchor="middle" font-weight="normal" font-style="normal" textLength="49.7" lengthAdjust="spacingAndGlyphs">34.75</text>
<text x="884.7" y="862.8" font-size="18.4" text-anchor="middle" font-weight="normal" font-style="normal" textLength="49.7" lengthAdjust="spacingAndGlyphs">35.00</text>
<text x="952.5" y="862.8" font-size="18.4" text-anchor="middle" font-weight="normal" font-style="normal" textLength="49.7" lengthAdjust="spacingAndGlyphs">35.25</text>
<g clip-path="url(#c2)">
<polygon points="1087,14.1 1087,29.8 1090,50.2 1093,70.7 1096,91.1 1098.5,112.1 1105.9,133.6 1121.1,155.3 1145.5,176.2 1168.2,196.1 1179.9,215.8 1190.9,235.9 1199.3,256.2 1207.4,276.9 1217.5,297.7 1226.1,319 1235.5,339.9 1246.1,361.1 1261.7,381.9 1274.3,401.8 1287.5,421.2 1301.2,441.3 1315.8,461.5 1326.4,481.1 1333.6,501.2 1341.8,521.6 1349.7,541.9 1357,562.1 1363.2,582.3 1369,602.7 1374.9,623.1 1380.9,643.4 1385.6,663.8 1391.5,684.3 1396.2,704.6 1401.6,725 1405.6,745.3 1409.6,765.8 1413.8,786.2 1417.4,806.5 1420.3,826.9 1420.3,841.5 1428.3,841.5 1428.3,825.7 1425.4,805.2 1421.9,784.6 1417.8,764.1 1413.9,743.7 1409.9,723.1 1404.6,702.6 1400,682.1 1394.2,661.6 1389.6,641.1 1383.7,620.5 1378.2,600.1 1372.8,579.6 1366.9,558.9 1359.8,538.2 1352.3,517.6 1344.5,497.1 1337.3,476.3 1326.3,455 1311.9,434.2 1299.2,414.2 1287.2,394.1 1273.8,373.5 1258.3,353.4 1248.1,333.6 1237.7,313.2 1227.4,292.8 1217.1,272.5 1208.8,252.2 1199.9,231.5 1190.3,209.8 1177.3,188.3 1153.4,167.1 1128.1,148.7 1113.7,129.4 1106.3,110.1 1102,90.2 1099,69.8 1096,49.4 1093,28.9 1093,14.1" fill="#00ffff" stroke="#00ffff" stroke-width="3" stroke-linejoin="round"/>
<polyline points="1085,19.1 1085.4,23.2 1085.8,27.3 1086.2,31.4 1086.6,35.5 1087,39.6 1087.5,43.7 1088.2,49.8 1089.5,60 1091,70.2 1092.5,80.5 1094,90.7 1097.5,100.9 1110,111.1 1119,121.3 1134,141.8 1150,162.2 1166,182.6 1183,203.1 1199,223.5 1225.5,274.6 1253.7,325.7 1307.5,427.8 1349.5,530 1379.2,632.2 1406.4,734.3 1424.8,836.5" fill="none" stroke="#ff0000" stroke-width="8.7" stroke-linejoin="round" stroke-linecap="butt"/>
<polyline points="1090,29.4 1093,49.8 1096,70.2 1099,90.7 1102.4,111.1 1109.8,131.5 1124.6,152 1148.8,172.4 1172,192.8 1184.2,213.3 1195.4,233.7 1204.2,254.1 1212.6,274.6 1222.9,295 1233.2,315.4 1243.5,335.9 1253.7,356.3 1269.1,376.7 1282,397.2 1293.5,417.6 1306.1,438 1320.6,458.5 1331.4,478.9 1338.6,499.3 1346.6,519.8 1354.3,540.2 1361.5,560.6 1367.5,581.1 1373.1,601.5 1378.8,621.9 1384.8,642.4 1389.5,662.8 1395.4,683.2 1400.1,703.7 1405.5,724.1 1409.5,744.5 1413.5,765 1417.7,785.4 1421.3,805.9 1424.3,826.3" fill="none" stroke="#0000ff" stroke-width="2.8" stroke-linejoin="round" stroke-linecap="butt"/>
<path d="M1084 29.4a6.0 6.0 0 1 0 12 0a6.0 6.0 0 1 0 -12 0M1087 49.8a6.0 6.0 0 1 0 12 0a6.0 6.0 0 1 0 -12 0M1090 70.2a6.0 6.0 0 1 0 12 0a6.0 6.0 0 1 0 -12 0M1093 90.7a6.0 6.0 0 1 0 12 0a6.0 6.0 0 1 0 -12 0M1096.4 111.1a6.0 6.0 0 1 0 12 0a6.0 6.0 0 1 0 -12 0M1103.8 131.5a6.0 6.0 0 1 0 12 0a6.0 6.0 0 1 0 -12 0M1118.6 152a6.0 6.0 0 1 0 12 0a6.0 6.0 0 1 0 -12 0M1142.8 172.4a6.0 6.0 0 1 0 12 0a6.0 6.0 0 1 0 -12 0M1166 192.8a6.0 6.0 0 1 0 12 0a6.0 6.0 0 1 0 -12 0M1178.2 213.3a6.0 6.0 0 1 0 12 0a6.0 6.0 0 1 0 -12 0M1189.4 233.7a6.0 6.0 0 1 0 12 0a6.0 6.0 0 1 0 -12 0M1198.2 254.1a6.0 6.0 0 1 0 12 0a6.0 6.0 0 1 0 -12 0M1206.6 274.6a6.0 6.0 0 1 0 12 0a6.0 6.0 0 1 0 -12 0M1216.9 295a6.0 6.0 0 1 0 12 0a6.0 6.0 0 1 0 -12 0M1227.2 315.4a6.0 6.0 0 1 0 12 0a6.0 6.0 0 1 0 -12 0M1237.5 335.9a6.0 6.0 0 1 0 12 0a6.0 6.0 0 1 0 -12 0M1247.7 356.3a6.0 6.0 0 1 0 12 0a6.0 6.0 0 1 0 -12 0M1263.1 376.7a6.0 6.0 0 1 0 12 0a6.0 6.0 0 1 0 -12 0M1276 397.2a6.0 6.0 0 1 0 12 0a6.0 6.0 0 1 0 -12 0M1287.5 417.6a6.0 6.0 0 1 0 12 0a6.0 6.0 0 1 0 -12 0M1300.1 438a6.0 6.0 0 1 0 12 0a6.0 6.0 0 1 0 -12 0M1314.6 458.5a6.0 6.0 0 1 0 12 0a6.0 6.0 0 1 0 -12 0M1325.4 478.9a6.0 6.0 0 1 0 12 0a6.0 6.0 0 1 0 -12 0M1332.6 499.3a6.0 6.0 0 1 0 12 0a6.0 6.0 0 1 0 -12 0M1340.6 519.8a6.0 6.0 0 1 0 12 0a6.0 6.0 0 1 0 -12 0M1348.3 540.2a6.0 6.0 0 1 0 12 0a6.0 6.0 0 1 0 -12 0M1355.5 560.6a6.0 6.0 0 1 0 12 0a6.0 6.0 0 1 0 -12 0M1361.5 581.1a6.0 6.0 0 1 0 12 0a6.0 6.0 0 1 0 -12 0M1367.1 601.5a6.0 6.0 0 1 0 12 0a6.0 6.0 0 1 0 -12 0M1372.8 621.9a6.0 6.0 0 1 0 12 0a6.0 6.0 0 1 0 -12 0M1378.8 642.4a6.0 6.0 0 1 0 12 0a6.0 6.0 0 1 0 -12 0M1383.5 662.8a6.0 6.0 0 1 0 12 0a6.0 6.0 0 1 0 -12 0M1389.4 683.2a6.0 6.0 0 1 0 12 0a6.0 6.0 0 1 0 -12 0M1394.1 703.7a6.0 6.0 0 1 0 12 0a6.0 6.0 0 1 0 -12 0M1399.5 724.1a6.0 6.0 0 1 0 12 0a6.0 6.0 0 1 0 -12 0M1403.5 744.5a6.0 6.0 0 1 0 12 0a6.0 6.0 0 1 0 -12 0M1407.5 765a6.0 6.0 0 1 0 12 0a6.0 6.0 0 1 0 -12 0M1411.7 785.4a6.0 6.0 0 1 0 12 0a6.0 6.0 0 1 0 -12 0M1415.3 805.9a6.0 6.0 0 1 0 12 0a6.0 6.0 0 1 0 -12 0M1418.3 826.3a6.0 6.0 0 1 0 12 0a6.0 6.0 0 1 0 -12 0" fill="#0000ff"/>
<polyline points="1085,19.1 1085.4,23.2 1085.8,27.3 1086.2,31.4 1086.6,35.5 1087,39.6 1087.5,43.7 1088.2,49.8 1089.5,60 1091,70.2 1092.5,80.5 1094,90.7 1097.5,100.9 1110,111.1 1119,121.3 1134,141.8 1150,162.2 1166,182.6 1183,203.1 1199,223.5 1225.5,274.6 1253.7,325.7 1307.5,427.8 1349.5,530 1379.2,632.2 1406.4,734.3 1424.8,836.5" fill="none" stroke="#ff0000" stroke-width="2.8" stroke-linejoin="round" stroke-linecap="butt"/>
<path d="M1079 19.1a6.0 6.0 0 1 0 12 0a6.0 6.0 0 1 0 -12 0M1079.4 23.2a6.0 6.0 0 1 0 12 0a6.0 6.0 0 1 0 -12 0M1079.8 27.3a6.0 6.0 0 1 0 12 0a6.0 6.0 0 1 0 -12 0M1080.2 31.4a6.0 6.0 0 1 0 12 0a6.0 6.0 0 1 0 -12 0M1080.6 35.5a6.0 6.0 0 1 0 12 0a6.0 6.0 0 1 0 -12 0M1081 39.6a6.0 6.0 0 1 0 12 0a6.0 6.0 0 1 0 -12 0M1081.5 43.7a6.0 6.0 0 1 0 12 0a6.0 6.0 0 1 0 -12 0M1082.2 49.8a6.0 6.0 0 1 0 12 0a6.0 6.0 0 1 0 -12 0M1083.5 60a6.0 6.0 0 1 0 12 0a6.0 6.0 0 1 0 -12 0M1085 70.2a6.0 6.0 0 1 0 12 0a6.0 6.0 0 1 0 -12 0M1086.5 80.5a6.0 6.0 0 1 0 12 0a6.0 6.0 0 1 0 -12 0M1088 90.7a6.0 6.0 0 1 0 12 0a6.0 6.0 0 1 0 -12 0M1091.5 100.9a6.0 6.0 0 1 0 12 0a6.0 6.0 0 1 0 -12 0M1104 111.1a6.0 6.0 0 1 0 12 0a6.0 6.0 0 1 0 -12 0M1113 121.3a6.0 6.0 0 1 0 12 0a6.0 6.0 0 1 0 -12 0M1128 141.8a6.0 6.0 0 1 0 12 0a6.0 6.0 0 1 0 -12 0M1144 162.2a6.0 6.0 0 1 0 12 0a6.0 6.0 0 1 0 -12 0M1160 182.6a6.0 6.0 0 1 0 12 0a6.0 6.0 0 1 0 -12 0M1177 203.1a6.0 6.0 0 1 0 12 0a6.0 6.0 0 1 0 -12 0M1193 223.5a6.0 6.0 0 1 0 12 0a6.0 6.0 0 1 0 -12 0M1219.5 274.6a6.0 6.0 0 1 0 12 0a6.0 6.0 0 1 0 -12 0M1247.7 325.7a6.0 6.0 0 1 0 12 0a6.0 6.0 0 1 0 -12 0M1301.5 427.8a6.0 6.0 0 1 0 12 0a6.0 6.0 0 1 0 -12 0M1343.5 530a6.0 6.0 0 1 0 12 0a6.0 6.0 0 1 0 -12 0M1373.2 632.2a6.0 6.0 0 1 0 12 0a6.0 6.0 0 1 0 -12 0M1400.4 734.3a6.0 6.0 0 1 0 12 0a6.0 6.0 0 1 0 -12 0M1418.8 836.5a6.0 6.0 0 1 0 12 0a6.0 6.0 0 1 0 -12 0" fill="#ff0000"/>
<polyline points="1084.3,19.1 1084.6,23.2 1084.9,27.3 1085.2,31.4 1085.5,35.5 1085.8,39.6 1086.2,43.7 1086.9,49.8 1088,60 1089.5,70.2 1091.8,80.5 1093,90.7 1097.5,100.9 1109.5,111.1 1116.2,121.3 1127.5,141.8 1142.4,162.2 1163.4,182.6 1182.1,203.1 1197,223.5 1229.9,274.6 1251.2,325.7 1298.8,427.8 1343.4,530 1374.1,632.2 1400.1,734.3 1420.1,836.5" fill="none" stroke="#008000" stroke-width="2.8" stroke-linejoin="round" stroke-linecap="butt"/>
<path d="M1078.3 19.1a6.0 6.0 0 1 0 12 0a6.0 6.0 0 1 0 -12 0M1078.6 23.2a6.0 6.0 0 1 0 12 0a6.0 6.0 0 1 0 -12 0M1078.9 27.3a6.0 6.0 0 1 0 12 0a6.0 6.0 0 1 0 -12 0M1079.2 31.4a6.0 6.0 0 1 0 12 0a6.0 6.0 0 1 0 -12 0M1079.5 35.5a6.0 6.0 0 1 0 12 0a6.0 6.0 0 1 0 -12 0M1079.8 39.6a6.0 6.0 0 1 0 12 0a6.0 6.0 0 1 0 -12 0M1080.2 43.7a6.0 6.0 0 1 0 12 0a6.0 6.0 0 1 0 -12 0M1080.9 49.8a6.0 6.0 0 1 0 12 0a6.0 6.0 0 1 0 -12 0M1082 60a6.0 6.0 0 1 0 12 0a6.0 6.0 0 1 0 -12 0M1083.5 70.2a6.0 6.0 0 1 0 12 0a6.0 6.0 0 1 0 -12 0M1085.8 80.5a6.0 6.0 0 1 0 12 0a6.0 6.0 0 1 0 -12 0M1087 90.7a6.0 6.0 0 1 0 12 0a6.0 6.0 0 1 0 -12 0M1091.5 100.9a6.0 6.0 0 1 0 12 0a6.0 6.0 0 1 0 -12 0M1103.5 111.1a6.0 6.0 0 1 0 12 0a6.0 6.0 0 1 0 -12 0M1110.2 121.3a6.0 6.0 0 1 0 12 0a6.0 6.0 0 1 0 -12 0M1121.5 141.8a6.0 6.0 0 1 0 12 0a6.0 6.0 0 1 0 -12 0M1136.4 162.2a6.0 6.0 0 1 0 12 0a6.0 6.0 0 1 0 -12 0M1157.4 182.6a6.0 6.0 0 1 0 12 0a6.0 6.0 0 1 0 -12 0M1176.1 203.1a6.0 6.0 0 1 0 12 0a6.0 6.0 0 1 0 -12 0M1191 223.5a6.0 6.0 0 1 0 12 0a6.0 6.0 0 1 0 -12 0M1223.9 274.6a6.0 6.0 0 1 0 12 0a6.0 6.0 0 1 0 -12 0M1245.2 325.7a6.0 6.0 0 1 0 12 0a6.0 6.0 0 1 0 -12 0M1292.8 427.8a6.0 6.0 0 1 0 12 0a6.0 6.0 0 1 0 -12 0M1337.4 530a6.0 6.0 0 1 0 12 0a6.0 6.0 0 1 0 -12 0M1368.1 632.2a6.0 6.0 0 1 0 12 0a6.0 6.0 0 1 0 -12 0M1394.1 734.3a6.0 6.0 0 1 0 12 0a6.0 6.0 0 1 0 -12 0M1414.1 836.5a6.0 6.0 0 1 0 12 0a6.0 6.0 0 1 0 -12 0" fill="#008000"/>
<polyline points="1092.2,20.2 1092.4,22.3 1092.5,24.6 1092.7,27 1092.9,29.5 1093.1,32.3 1093.3,35.4 1093.6,38.7 1093.9,42.4 1094.3,46.7 1094.8,51.5 1095.3,57 1095.9,63.3 1096.5,70.7 1097.7,79.3 1101.2,89.5 1104.2,101.6 1108,115.9 1117,133.1 1133.4,153.6 1153.8,178.2 1175.4,207.8 1192.1,243.4 1213.9,286.2 1247.3,337.6 1290.5,399.5 1325.4,473.8 1359.6,562.8 1387.1,669.2 1414.9,796.1" fill="none" stroke="#ff00ff" stroke-width="2.8" stroke-linejoin="round" stroke-linecap="butt"/>
<path d="M1086.2 20.2a6.0 6.0 0 1 0 12 0a6.0 6.0 0 1 0 -12 0M1086.4 22.3a6.0 6.0 0 1 0 12 0a6.0 6.0 0 1 0 -12 0M1086.5 24.6a6.0 6.0 0 1 0 12 0a6.0 6.0 0 1 0 -12 0M1086.7 27a6.0 6.0 0 1 0 12 0a6.0 6.0 0 1 0 -12 0M1086.9 29.5a6.0 6.0 0 1 0 12 0a6.0 6.0 0 1 0 -12 0M1087.1 32.3a6.0 6.0 0 1 0 12 0a6.0 6.0 0 1 0 -12 0M1087.3 35.4a6.0 6.0 0 1 0 12 0a6.0 6.0 0 1 0 -12 0M1087.6 38.7a6.0 6.0 0 1 0 12 0a6.0 6.0 0 1 0 -12 0M1087.9 42.4a6.0 6.0 0 1 0 12 0a6.0 6.0 0 1 0 -12 0M1088.3 46.7a6.0 6.0 0 1 0 12 0a6.0 6.0 0 1 0 -12 0M1088.8 51.5a6.0 6.0 0 1 0 12 0a6.0 6.0 0 1 0 -12 0M1089.3 57a6.0 6.0 0 1 0 12 0a6.0 6.0 0 1 0 -12 0M1089.9 63.3a6.0 6.0 0 1 0 12 0a6.0 6.0 0 1 0 -12 0M1090.5 70.7a6.0 6.0 0 1 0 12 0a6.0 6.0 0 1 0 -12 0M1091.7 79.3a6.0 6.0 0 1 0 12 0a6.0 6.0 0 1 0 -12 0M1095.2 89.5a6.0 6.0 0 1 0 12 0a6.0 6.0 0 1 0 -12 0M1098.2 101.6a6.0 6.0 0 1 0 12 0a6.0 6.0 0 1 0 -12 0M1102 115.9a6.0 6.0 0 1 0 12 0a6.0 6.0 0 1 0 -12 0M1111 133.1a6.0 6.0 0 1 0 12 0a6.0 6.0 0 1 0 -12 0M1127.4 153.6a6.0 6.0 0 1 0 12 0a6.0 6.0 0 1 0 -12 0M1147.8 178.2a6.0 6.0 0 1 0 12 0a6.0 6.0 0 1 0 -12 0M1169.4 207.8a6.0 6.0 0 1 0 12 0a6.0 6.0 0 1 0 -12 0M1186.1 243.4a6.0 6.0 0 1 0 12 0a6.0 6.0 0 1 0 -12 0M1207.9 286.2a6.0 6.0 0 1 0 12 0a6.0 6.0 0 1 0 -12 0M1241.3 337.6a6.0 6.0 0 1 0 12 0a6.0 6.0 0 1 0 -12 0M1284.5 399.5a6.0 6.0 0 1 0 12 0a6.0 6.0 0 1 0 -12 0M1319.4 473.8a6.0 6.0 0 1 0 12 0a6.0 6.0 0 1 0 -12 0M1353.6 562.8a6.0 6.0 0 1 0 12 0a6.0 6.0 0 1 0 -12 0M1381.1 669.2a6.0 6.0 0 1 0 12 0a6.0 6.0 0 1 0 -12 0M1408.9 796.1a6.0 6.0 0 1 0 12 0a6.0 6.0 0 1 0 -12 0" fill="#ff00ff"/>
</g>
<rect x="1057.4" y="19.1" width="395.1" height="817.4" fill="none" stroke="#000" stroke-width="1.4" stroke-linejoin="miter"/>
<path d="M1060.5 836.5V842.6M1170.8 836.5V842.6M1281.1 836.5V842.6M1391.4 836.5V842.6M1057.4 19.1H1051.3M1057.4 70.2H1051.3M1057.4 121.3H1051.3M1057.4 172.4H1051.3M1057.4 223.5H1051.3M1057.4 274.6H1051.3M1057.4 325.7H1051.3M1057.4 376.7H1051.3M1057.4 427.8H1051.3M1057.4 478.9H1051.3M1057.4 530H1051.3M1057.4 581.1H1051.3M1057.4 632.2H1051.3M1057.4 683.2H1051.3M1057.4 734.3H1051.3M1057.4 785.4H1051.3" stroke="#000" stroke-width="1.4" fill="none"/>
<text x="1060.5" y="862.8" font-size="18.4" text-anchor="middle" font-weight="normal" font-style="normal" textLength="44.2" lengthAdjust="spacingAndGlyphs">1022</text>
<text x="1170.8" y="862.8" font-size="18.4" text-anchor="middle" font-weight="normal" font-style="normal" textLength="44.2" lengthAdjust="spacingAndGlyphs">1024</text>
<text x="1281.1" y="862.8" font-size="18.4" text-anchor="middle" font-weight="normal" font-style="normal" textLength="44.2" lengthAdjust="spacingAndGlyphs">1026</text>
<text x="1391.4" y="862.8" font-size="18.4" text-anchor="middle" font-weight="normal" font-style="normal" textLength="44.2" lengthAdjust="spacingAndGlyphs">1028</text>
<text x="76.1" y="26.6" font-size="18.4" text-anchor="end" font-weight="normal" font-style="normal" textLength="11" lengthAdjust="spacingAndGlyphs">0</text>
<text x="76.1" y="77.7" font-size="18.4" text-anchor="end" font-weight="normal" font-style="normal" textLength="22.1" lengthAdjust="spacingAndGlyphs">25</text>
<text x="76.1" y="128.8" font-size="18.4" text-anchor="end" font-weight="normal" font-style="normal" textLength="22.1" lengthAdjust="spacingAndGlyphs">50</text>
<text x="76.1" y="179.9" font-size="18.4" text-anchor="end" font-weight="normal" font-style="normal" textLength="22.1" lengthAdjust="spacingAndGlyphs">75</text>
<text x="76.1" y="231" font-size="18.4" text-anchor="end" font-weight="normal" font-style="normal" textLength="33.1" lengthAdjust="spacingAndGlyphs">100</text>
<text x="76.1" y="282.1" font-size="18.4" text-anchor="end" font-weight="normal" font-style="normal" textLength="33.1" lengthAdjust="spacingAndGlyphs">125</text>
<text x="76.1" y="333.2" font-size="18.4" text-anchor="end" font-weight="normal" font-style="normal" textLength="33.1" lengthAdjust="spacingAndGlyphs">150</text>
<text x="76.1" y="384.2" font-size="18.4" text-anchor="end" font-weight="normal" font-style="normal" textLength="33.1" lengthAdjust="spacingAndGlyphs">175</text>
<text x="76.1" y="435.3" font-size="18.4" text-anchor="end" font-weight="normal" font-style="normal" textLength="33.1" lengthAdjust="spacingAndGlyphs">200</text>
<text x="76.1" y="486.4" font-size="18.4" text-anchor="end" font-weight="normal" font-style="normal" textLength="33.1" lengthAdjust="spacingAndGlyphs">225</text>
<text x="76.1" y="537.5" font-size="18.4" text-anchor="end" font-weight="normal" font-style="normal" textLength="33.1" lengthAdjust="spacingAndGlyphs">250</text>
<text x="76.1" y="588.6" font-size="18.4" text-anchor="end" font-weight="normal" font-style="normal" textLength="33.1" lengthAdjust="spacingAndGlyphs">275</text>
<text x="76.1" y="639.7" font-size="18.4" text-anchor="end" font-weight="normal" font-style="normal" textLength="33.1" lengthAdjust="spacingAndGlyphs">300</text>
<text x="76.1" y="690.7" font-size="18.4" text-anchor="end" font-weight="normal" font-style="normal" textLength="33.1" lengthAdjust="spacingAndGlyphs">325</text>
<text x="76.1" y="741.8" font-size="18.4" text-anchor="end" font-weight="normal" font-style="normal" textLength="33.1" lengthAdjust="spacingAndGlyphs">350</text>
<text x="76.1" y="792.9" font-size="18.4" text-anchor="end" font-weight="normal" font-style="normal" textLength="33.1" lengthAdjust="spacingAndGlyphs">375</text>
<text x="175.4" y="892.8" font-size="23.9" text-anchor="start" font-weight="bold" font-style="normal" textLength="180.3" lengthAdjust="spacingAndGlyphs">Temperature (</text>
<text x="358.8" y="884.5" font-size="16.5" text-anchor="start" font-weight="normal" font-style="italic" textLength="9.5" lengthAdjust="spacingAndGlyphs">o</text>
<text x="369" y="892.8" font-size="23.9" text-anchor="start" font-weight="normal" font-style="italic" textLength="15.7" lengthAdjust="spacingAndGlyphs">C</text>
<text x="385.6" y="892.8" font-size="23.9" text-anchor="start" font-weight="bold" font-style="normal" textLength="10.3" lengthAdjust="spacingAndGlyphs">)</text>
<text x="770.5" y="892" font-size="23.9" text-anchor="middle" font-weight="bold" font-style="normal" textLength="96.2" lengthAdjust="spacingAndGlyphs">Salinity</text>
<text x="1255" y="892" font-size="23.9" text-anchor="middle" font-weight="bold" font-style="normal" textLength="212.7" lengthAdjust="spacingAndGlyphs">Density (kg m-3)</text>
<g transform="translate(29.7,429.3) rotate(-90)"><text x="0" y="0" font-size="23.9" text-anchor="middle" font-weight="bold" font-style="normal" textLength="128.9" lengthAdjust="spacingAndGlyphs">Depth (m)</text></g>
<text x="787.9" y="917.9" font-size="18.4" text-anchor="middle" font-weight="normal" font-style="italic" textLength="895.4" lengthAdjust="spacingAndGlyphs" xml:space="preserve">Ocean Heat Content (kJ/cm^2) - Glider: 25.4988,  RTOFS: 18.1173,  GOFS: 20.4558,  CMEMS: 20.6068,</text>
<text x="1502.5" y="36.2" font-size="23.9" text-anchor="start" font-weight="bold" font-style="normal" textLength="379.6" lengthAdjust="spacingAndGlyphs">Comparison Date: 2024-09-12</text>
<text x="1502.5" y="89.5" font-size="23.9" text-anchor="start" font-weight="bold" font-style="normal" textLength="170" lengthAdjust="spacingAndGlyphs">Glider: sg512</text>
<text x="1502.5" y="115.8" font-size="23.9" text-anchor="start" font-weight="bold" font-style="normal" textLength="128.8" lengthAdjust="spacingAndGlyphs">Profiles: 3</text>
<text x="1502.5" y="142.1" font-size="23.9" text-anchor="start" font-weight="bold" font-style="normal" textLength="339.5" lengthAdjust="spacingAndGlyphs">First: 2024-09-12 01:47:26</text>
<text x="1502.5" y="168.4" font-size="23.9" text-anchor="start" font-weight="bold" font-style="normal" textLength="334.9" lengthAdjust="spacingAndGlyphs">Last: 2024-09-12 10:32:45</text>
<text x="1502.5" y="194.7" font-size="23.9" text-anchor="start" font-weight="bold" font-style="normal" textLength="339.2" lengthAdjust="spacingAndGlyphs">Method: Nearest-Neighbor</text>
<rect x="1542.5" y="301.4" width="394.8" height="251.6" fill="#6594ec"/>
<rect x="1542.5" y="301.4" width="394.8" height="7.4" fill="#97b4e3"/>
<polygon points="1543,346 1547,352 1554,355 1560,354 1566,354 1566,357 1554,361 1550,359 1543,356" fill="#9fbae4"/>
<polygon points="1569,363 1574,356 1580,364 1580,367 1575,366 1570,366" fill="#9fbae4"/>
<polygon points="1587,365 1590,363 1590,367" fill="#9fbae4"/>
<polygon points="1592,366 1600,363 1603,366 1605,368 1606,365 1613,366 1615,369 1612,371 1607,371 1600,369 1594,368" fill="#9fbae4"/>
<polygon points="1622,370 1625,368 1627,372 1623,373" fill="#9fbae4"/>
<polygon points="1634,385 1640,379 1648,378 1650,383 1645,388 1638,389" fill="#9fbae4"/>
<polygon points="1653,386 1660,385 1668,387 1672,392 1680,393 1690,394 1692,398 1696,405 1706,410 1708,418 1702,418 1693,410 1686,408 1680,407 1672,406 1668,402 1667,398 1662,397 1658,392" fill="#9fbae4"/>
<polygon points="1693.1,408.5 1700.6,411.7 1706.5,416.5 1708.6,419.8 1702.8,423.5 1698.5,425.7 1696.3,428.3 1693.1,425.7 1692.1,421.4 1690.4,417.1 1692.1,412.8" fill="#d2b48c" stroke="#000" stroke-width="1.9" stroke-linejoin="round"/>
<polygon points="1683.5,398.4 1688.8,398.9 1692.6,402.1 1689.9,404.2 1684.6,405.3 1682.4,402.1" fill="#d2b48c" stroke="#000" stroke-width="1.9" stroke-linejoin="round"/>
<polygon points="1673.8,395.2 1682.4,395.5 1683.5,397.8 1674.9,397.6" fill="#d2b48c" stroke="#000" stroke-width="1.9" stroke-linejoin="round"/>
<polygon points="1678,400 1680.5,400.5 1680,402.5 1677.5,402" fill="#d2b48c" stroke="#000" stroke-width="1.9" stroke-linejoin="round"/>
<polygon points="1682.5,404 1685.5,404.5 1684.5,405.5" fill="#d2b48c" stroke="#000" stroke-width="1.9" stroke-linejoin="round"/>
<polygon points="1661,389.3 1665.3,387.6 1669.6,393 1668,394.6 1662.1,393.5" fill="#d2b48c" stroke="#000" stroke-width="1.9" stroke-linejoin="round"/>
<polygon points="1640.5,381.5 1644,380 1647.5,381.5 1647.5,384.5 1644,386 1640.5,384.5" fill="#d2b48c" stroke="#000" stroke-width="1.9" stroke-linejoin="round"/>
<polygon points="1635,384.5 1636.5,383 1637,385.5 1635.5,387" fill="#d2b48c" stroke="#000" stroke-width="1.9" stroke-linejoin="round"/>
<circle cx="1730" cy="453.7" r="5" fill="#ff0000" stroke="#000" stroke-width="1.2"/>
<rect x="1542.5" y="301.4" width="394.8" height="251.6" fill="none" stroke="#000" stroke-width="1.3"/>
<path d="M1570.4 301.4V292.7M1570.4 553V561.7M1611.2 301.4V292.7M1611.2 553V561.7M1651.9 301.4V292.7M1651.9 553V561.7M1692.7 301.4V292.7M1692.7 553V561.7M1733.5 301.4V292.7M1733.5 553V561.7M1774.2 301.4V292.7M1774.2 553V561.7M1815 301.4V292.7M1815 553V561.7M1855.8 301.4V292.7M1855.8 553V561.7M1896.6 301.4V292.7M1896.6 553V561.7M1937.3 301.4V292.7M1937.3 553V561.7M1542.5 310.4H1533.5M1937.3 310.4H1946.3M1542.5 354.6H1533.5M1937.3 354.6H1946.3M1542.5 398.2H1533.5M1937.3 398.2H1946.3M1542.5 441.3H1533.5M1937.3 441.3H1946.3M1542.5 484.5H1533.5M1937.3 484.5H1946.3M1542.5 525.5H1533.5M1937.3 525.5H1946.3" stroke="#000" stroke-width="3" fill="none"/>
<path d="M1543.2 301.4V298.1M1543.2 553V556.3M1556.8 301.4V298.1M1556.8 553V556.3M1584 301.4V298.1M1584 553V556.3M1597.6 301.4V298.1M1597.6 553V556.3M1624.8 301.4V298.1M1624.8 553V556.3M1638.4 301.4V298.1M1638.4 553V556.3M1665.5 301.4V298.1M1665.5 553V556.3M1679.1 301.4V298.1M1679.1 553V556.3M1706.3 301.4V298.1M1706.3 553V556.3M1719.9 301.4V298.1M1719.9 553V556.3M1747.1 301.4V298.1M1747.1 553V556.3M1760.7 301.4V298.1M1760.7 553V556.3M1787.8 301.4V298.1M1787.8 553V556.3M1801.4 301.4V298.1M1801.4 553V556.3M1828.6 301.4V298.1M1828.6 553V556.3M1842.2 301.4V298.1M1842.2 553V556.3M1869.4 301.4V298.1M1869.4 553V556.3M1883 301.4V298.1M1883 553V556.3M1910.2 301.4V298.1M1910.2 553V556.3M1923.7 301.4V298.1M1923.7 553V556.3M1542.5 552.9H1539.2M1937.3 552.9H1940.6M1542.5 539.2H1539.2M1937.3 539.2H1940.6M1542.5 511.7H1539.2M1937.3 511.7H1940.6M1542.5 497.9H1539.2M1937.3 497.9H1940.6M1542.5 470H1539.2M1937.3 470H1940.6M1542.5 455.9H1539.2M1937.3 455.9H1940.6M1542.5 427.6H1539.2M1937.3 427.6H1940.6M1542.5 413.3H1539.2M1937.3 413.3H1940.6M1542.5 384.4H1539.2M1937.3 384.4H1940.6M1542.5 369.9H1539.2M1937.3 369.9H1940.6M1542.5 340.4H1539.2M1937.3 340.4H1940.6M1542.5 325.5H1539.2M1937.3 325.5H1940.6" stroke="#000" stroke-width="1.6" fill="none"/>
<text x="1527.1" y="319.6" font-size="23.9" text-anchor="end" font-weight="normal" font-style="normal" textLength="56.8" lengthAdjust="spacingAndGlyphs">27°N</text>
<text x="1527.1" y="363.8" font-size="23.9" text-anchor="end" font-weight="normal" font-style="normal" textLength="56.8" lengthAdjust="spacingAndGlyphs">24°N</text>
<text x="1527.1" y="407.4" font-size="23.9" text-anchor="end" font-weight="normal" font-style="normal" textLength="56.8" lengthAdjust="spacingAndGlyphs">21°N</text>
<text x="1527.1" y="450.5" font-size="23.9" text-anchor="end" font-weight="normal" font-style="normal" textLength="56.8" lengthAdjust="spacingAndGlyphs">18°N</text>
<text x="1527.1" y="493.7" font-size="23.9" text-anchor="end" font-weight="normal" font-style="normal" textLength="56.8" lengthAdjust="spacingAndGlyphs">15°N</text>
<text x="1527.1" y="534.7" font-size="23.9" text-anchor="end" font-weight="normal" font-style="normal" textLength="56.8" lengthAdjust="spacingAndGlyphs">12°N</text>
<text x="1570.4" y="586.7" font-size="23.9" text-anchor="middle" font-weight="normal" font-style="normal" textLength="76.6" lengthAdjust="spacingAndGlyphs">165°W</text>
<text x="1611.2" y="586.7" font-size="23.9" text-anchor="middle" font-weight="normal" font-style="normal" textLength="76.6" lengthAdjust="spacingAndGlyphs">162°W</text>
<text x="1651.9" y="586.7" font-size="23.9" text-anchor="middle" font-weight="normal" font-style="normal" textLength="76.6" lengthAdjust="spacingAndGlyphs">159°W</text>
<text x="1692.7" y="586.7" font-size="23.9" text-anchor="middle" font-weight="normal" font-style="normal" textLength="76.6" lengthAdjust="spacingAndGlyphs">156°W</text>
<text x="1733.5" y="586.7" font-size="23.9" text-anchor="middle" font-weight="normal" font-style="normal" textLength="76.6" lengthAdjust="spacingAndGlyphs">153°W</text>
<text x="1774.2" y="586.7" font-size="23.9" text-anchor="middle" font-weight="normal" font-style="normal" textLength="76.6" lengthAdjust="spacingAndGlyphs">150°W</text>
<text x="1815" y="586.7" font-size="23.9" text-anchor="middle" font-weight="normal" font-style="normal" textLength="76.6" lengthAdjust="spacingAndGlyphs">147°W</text>
<text x="1855.8" y="586.7" font-size="23.9" text-anchor="middle" font-weight="normal" font-style="normal" textLength="76.6" lengthAdjust="spacingAndGlyphs">144°W</text>
<text x="1896.6" y="586.7" font-size="23.9" text-anchor="middle" font-weight="normal" font-style="normal" textLength="76.6" lengthAdjust="spacingAndGlyphs">141°W</text>
<text x="1937.3" y="586.7" font-size="23.9" text-anchor="middle" font-weight="normal" font-style="normal" textLength="76.6" lengthAdjust="spacingAndGlyphs">138°W</text>
<rect x="1656.7" y="666" width="165.3" height="144.1" rx="4.5" ry="4.5" fill="#ffffff" fill-opacity="0.8" stroke="#cccccc" stroke-width="1.4"/>
<path d="M1665.1 685.5H1712.8" stroke="#0000ff" stroke-width="2.6"/>
<circle cx="1689.5" cy="685.5" r="5.8" fill="#0000ff"/>
<text x="1729.2" y="694.1" font-size="23.9" text-anchor="start" font-weight="normal" font-style="normal" textLength="69.1" lengthAdjust="spacingAndGlyphs">sg512</text>
<path d="M1665.1 719.8H1712.8" stroke="#ff0000" stroke-width="2.6"/>
<circle cx="1689.5" cy="719.8" r="5.8" fill="#ff0000"/>
<text x="1729.2" y="728.4" font-size="23.9" text-anchor="start" font-weight="normal" font-style="normal" textLength="72.4" lengthAdjust="spacingAndGlyphs">RTOFS</text>
<path d="M1665.1 754H1712.8" stroke="#008000" stroke-width="2.6"/>
<circle cx="1689.5" cy="754" r="5.8" fill="#008000"/>
<text x="1729.2" y="762.6" font-size="23.9" text-anchor="start" font-weight="normal" font-style="normal" textLength="62.1" lengthAdjust="spacingAndGlyphs">GOFS</text>
<path d="M1665.1 788.3H1712.8" stroke="#ff00ff" stroke-width="2.6"/>
<circle cx="1689.5" cy="788.3" r="5.8" fill="#ff00ff"/>
<text x="1729.2" y="796.9" font-size="23.9" text-anchor="start" font-weight="normal" font-style="normal" textLength="83.2" lengthAdjust="spacingAndGlyphs">CMEMS</text>
</svg>
</body></html>
